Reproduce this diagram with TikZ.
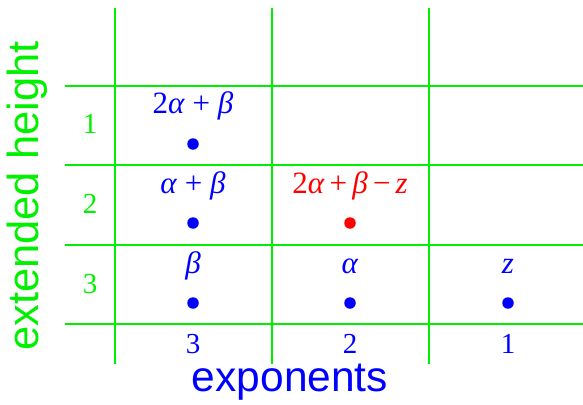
\documentclass[tikz,border=0pt]{standalone}
\usepackage{fontspec}
\setmainfont{Liberation Serif}
\setsansfont{Liberation Sans}
\definecolor{gr}{RGB}{0,240,0}
\definecolor{bl}{RGB}{0,0,255}
\definecolor{rd}{RGB}{255,0,0}
\begin{document}
\begin{tikzpicture}[x=1pt,y=-1pt,
  grid/.style={draw=gr,line width=2.4pt},
  lab/.style={font=\fontsize{29}{30}\selectfont,inner sep=0pt,anchor=base},
  mlab/.style={font=\fontsize{31}{32}\selectfont,inner sep=0pt,anchor=base},
  dot/.style={circle,fill=#1,inner sep=0pt,minimum size=11.5pt},
  axis/.style={font=\sffamily\fontsize{#1}{44}\selectfont,inner sep=0pt}]
\useasboundingbox (0,0) rectangle (583,404);
% grid
\foreach \x/\n in {115/v1,272/v2,429/v3}{
  \coordinate (\n t) at (\x,8); \coordinate (\n b) at (\x,364);
  \draw[grid] (\n t) -- (\n b);}
\foreach \y/\n in {86/h1,165/h2,245/h3,324/h4}{
  \coordinate (\n l) at (65,\y); \coordinate (\n r) at (583,\y);
  \draw[grid] (\n l) -- (\n r);}
% row labels
\node[lab,text=gr] (r1) at (90,133) {1};
\node[lab,text=gr] (r2) at (90,213) {2};
\node[lab,text=gr] (r3) at (90,293) {3};
% column labels
\node[lab,text=bl] (c3) at (193,353) {3};
\node[lab,text=bl] (c2) at (350,353) {2};
\node[lab,text=bl] (c1) at (508,353) {1};
% dots
\node[dot=bl] (d11) at (193,144) {};
\node[dot=bl] (d21) at (193,223) {};
\node[dot=rd] (d22) at (350,223) {};
\node[dot=bl] (d31) at (193,303) {};
\node[dot=bl] (d32) at (350,303) {};
\node[dot=bl] (d33) at (508,303) {};
% labels
\node[mlab,text=bl] (l11) at (193,113) {2\textit{α} + \textit{β}};
\node[mlab,text=bl] (l21) at (193,193) {\textit{α} + \textit{β}};
\node[mlab,text=rd] (l22) at (350,193) {2\textit{α}\,+\,\textit{β}\,−\,\textit{z}};
\node[mlab,text=bl] (l31) at (193,273) {\textit{β}};
\node[mlab,text=bl] (l32) at (350,273) {\textit{α}};
\node[mlab,text=bl] (l33) at (508,273) {\textit{z}};
% axis titles
\node[axis=42.5,text=bl] (xt) at (290,382) {exponents};
\node[axis=43.5,text=gr,rotate=90] (yt) at (27,196) {extended height};
\end{tikzpicture}
\end{document}
